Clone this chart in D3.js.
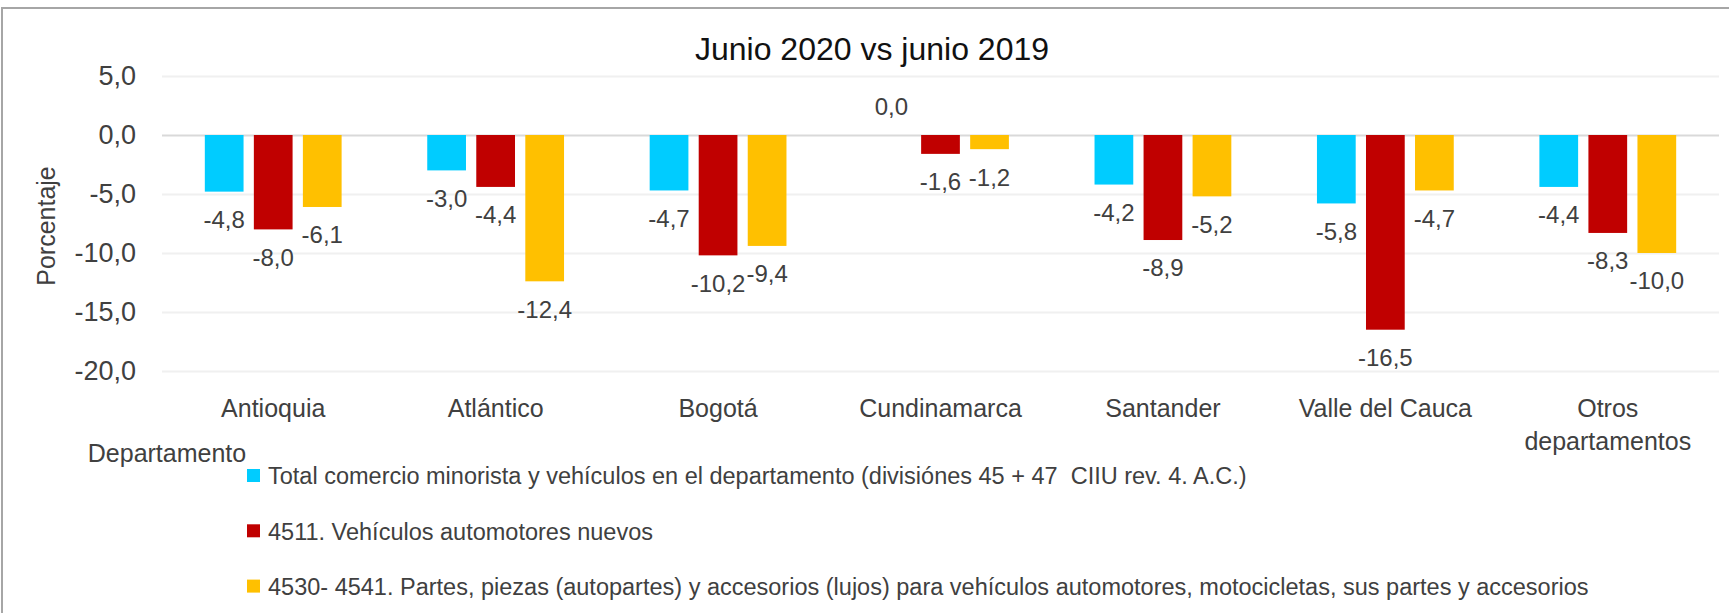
<!DOCTYPE html>
<html>
<head>
<meta charset="utf-8">
<title>Junio 2020 vs junio 2019</title>
<script src="https://d3js.org/d3.v7.min.js"></script>
<style>
  body { margin: 0; background: #fff; }
  svg text { font-family: "Liberation Sans", Arial, sans-serif; fill: #404040; }
</style>
</head>
<body>
<div id="chart"></div>
<script>
// departments
const categories = ["Antioquia", "Atlántico", "Bogotá", "Cundinamarca", "Santander", "Valle del Cauca", "Otros departamentos"];
// series values (variación %)
const totalComercio = [-4.8, -3.0, -4.7, 0.0, -4.2, -5.8, -4.4];
const vehiculosNuevos = [-8.0, -4.4, -10.2, -1.6, -8.9, -16.5, -8.3];
const partesAccesorios = [-6.1, -12.4, -9.4, -1.2, -5.2, -4.7, -10.0];
const seriesNames = [
  "Total comercio minorista y vehículos en el departamento (divisiónes 45 + 47  CIIU rev. 4. A.C.)",
  "4511. Vehículos automotores nuevos",
  "4530- 4541. Partes, piezas (autopartes) y accesorios (lujos) para vehículos automotores, motocicletas, sus partes y accesorios"
];
const yTicks = [5, 0, -5, -10, -15, -20];

const colors = ["#00CCFF", "#C00000", "#FFC000"];
const seriesValues = [totalComercio, vehiculosNuevos, partesAccesorios];

const W = 1729, H = 613;
const mLeft = 162, mRight = 1719, mTop = 76, mBottom = 371;

const svg = d3.select("#chart").append("svg")
  .attr("width", W).attr("height", H);

// outer chart border (top and left visible)
svg.append("rect")
  .attr("x", 2).attr("y", 8)
  .attr("width", W + 20).attr("height", H + 20)
  .attr("fill", "none")
  .attr("stroke", "#A6A6A6")
  .attr("stroke-width", 2);

// comma decimals, plain hyphen for the sign
const fmt = d3.formatLocale({decimal: ",", thousands: ".", grouping: [3], currency: ["", ""], minus: "-"}).format(".1f");

const y = d3.scaleLinear().domain([-20, 5]).range([mBottom, mTop]);
const x0 = d3.scaleBand().domain(categories).range([mLeft, mRight])
  .paddingInner(0.385).paddingOuter(0.1925);
const x1 = d3.scaleBand().domain(d3.range(3)).range([0, x0.bandwidth()])
  .paddingInner(0.21);

// y axis with gridlines
const yAxis = d3.axisLeft(y)
  .tickValues(yTicks)
  .tickSize(-(mRight - mLeft))
  .tickPadding(26)
  .tickFormat(fmt);
const gy = svg.append("g")
  .attr("transform", `translate(${mLeft},0)`)
  .call(yAxis);
gy.select(".domain").remove();
gy.selectAll(".tick line")
  .attr("stroke", d => d === 0 ? "#D9D9D9" : "#F0F0F0")
  .attr("stroke-width", 2);
gy.selectAll(".tick text")
  .style("font-size", "27px")
  .attr("fill", "#404040");

// bars
const rows = categories.map((c, i) => ({cat: c, vals: seriesValues.map(s => s[i])}));
const groups = svg.append("g").selectAll("g")
  .data(rows).enter().append("g")
  .attr("transform", d => `translate(${x0(d.cat)},0)`);

groups.selectAll("rect")
  .data(d => d.vals.map((v, k) => ({v, k})))
  .enter().append("rect")
  .attr("x", d => x1(d.k))
  .attr("width", x1.bandwidth())
  .attr("y", d => y(Math.max(0, d.v)))
  .attr("height", d => Math.abs(y(d.v) - y(0)))
  .attr("fill", d => colors[d.k]);

groups.selectAll("text.lbl")
  .data(d => d.vals.map((v, k) => ({v, k})))
  .enter().append("text")
  .attr("class", "lbl")
  .attr("x", d => x1(d.k) + x1.bandwidth() / 2)
  .attr("y", d => d.v < 0 ? y(d.v) + 28 : y(d.v) - 28)
  .attr("dy", "0.35em")
  .attr("text-anchor", "middle")
  .style("font-size", "24px")
  .text(d => fmt(d.v));

// x axis category labels
const xAxis = d3.axisBottom(x0).tickSize(0).tickPadding(0);
const gx = svg.append("g")
  .attr("transform", `translate(0,${mBottom})`)
  .call(xAxis);
gx.select(".domain").remove();
gx.selectAll(".tick text")
  .style("font-size", "25px")
  .attr("fill", "#404040")
  .attr("y", 0).attr("dy", null)
  .each(function(d) {
    const t = d3.select(this);
    const words = d === "Otros departamentos" ? ["Otros", "departamentos"] : [d];
    t.text(null);
    words.forEach((w, i) => {
      t.append("tspan").attr("x", 0).attr("y", 46 + i * 33).text(w);
    });
  });

// axis titles
svg.append("text")
  .attr("transform", "translate(55,226) rotate(-90)")
  .attr("text-anchor", "middle")
  .style("font-size", "25px")
  .text("Porcentaje");

svg.append("text")
  .attr("x", 167).attr("y", 462)
  .attr("text-anchor", "middle")
  .style("font-size", "25px")
  .text("Departamento");

// title
svg.append("text")
  .attr("x", 872).attr("y", 60)
  .attr("text-anchor", "middle")
  .style("font-size", "32px")
  .style("fill", "#111")
  .text("Junio 2020 vs junio 2019");

// legend
const legend = svg.append("g").selectAll("g")
  .data(seriesNames).enter().append("g")
  .attr("transform", (d, i) => `translate(247,${476 + i * 55.3})`);
legend.append("rect")
  .attr("x", 0).attr("y", -7)
  .attr("width", 13).attr("height", 13)
  .attr("fill", (d, i) => colors[i]);
legend.append("text")
  .attr("x", 21).attr("dy", "0.35em")
  .style("font-size", "23.5px")
  .style("white-space", "pre")
  .text(d => d);
</script>
</body>
</html>
